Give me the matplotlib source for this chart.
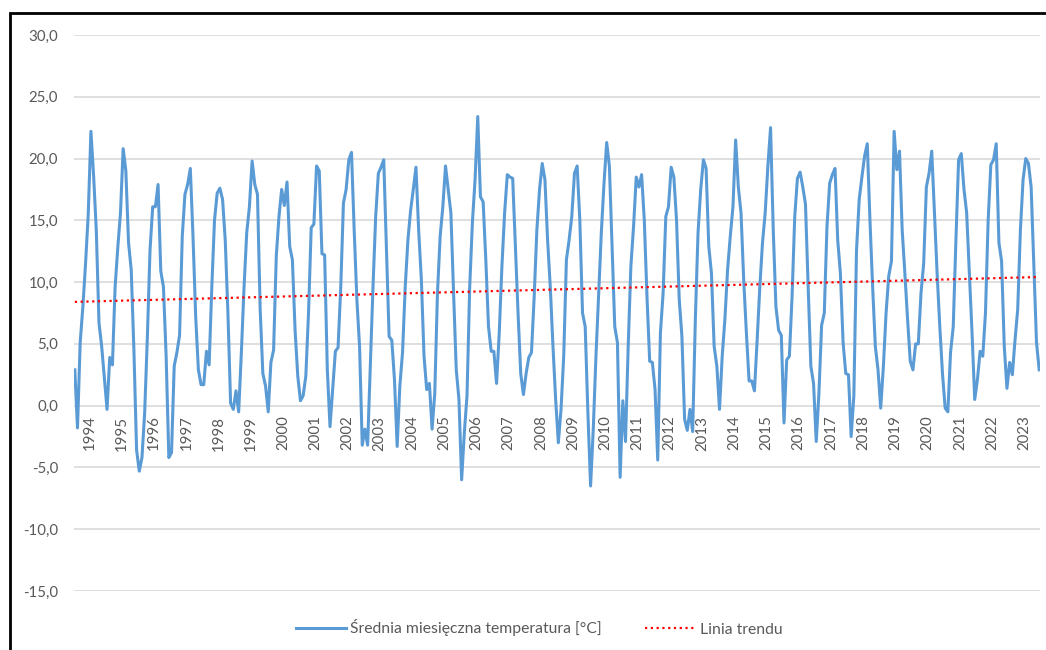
import matplotlib
matplotlib.use("Agg")
import matplotlib.pyplot as plt
import numpy as np
from matplotlib.patches import Rectangle

# monthly mean temperature [°C], Jan..Dec
YEARS = list(range(1994, 2024))
T_1994 = [2.9, -1.8, 5.1, 8.0, 11.5, 15.5, 22.2, 18.6, 14.2, 6.7, 4.8, 2.2]
T_1995 = [-0.3, 3.9, 3.3, 9.6, 12.8, 15.6, 20.8, 19.0, 13.2, 11.0, 4.5, -3.6]
T_1996 = [-5.3, -4.2, -0.6, 5.5, 12.6, 16.1, 16.1, 17.9, 10.9, 9.6, 4.0, -4.2]
T_1997 = [-3.8, 3.2, 4.3, 5.7, 13.7, 17.1, 17.9, 19.2, 13.7, 7.2, 2.9, 1.7]
T_1998 = [1.7, 4.4, 3.3, 9.6, 15.0, 17.2, 17.6, 16.7, 13.4, 7.5, 0.2, -0.3]
T_1999 = [1.2, -0.5, 4.3, 9.6, 14.0, 16.1, 19.8, 17.9, 17.1, 7.8, 2.6, 1.6]
T_2000 = [-0.5, 3.5, 4.5, 12.1, 15.3, 17.5, 16.2, 18.1, 12.9, 11.8, 6.1, 2.4]
T_2001 = [0.4, 0.8, 2.4, 7.5, 14.4, 14.7, 19.4, 19.0, 12.3, 12.2, 2.9, -1.7]
T_2002 = [1.3, 4.4, 4.7, 9.6, 16.4, 17.5, 19.9, 20.5, 14.2, 8.6, 4.8, -3.2]
T_2003 = [-1.9, -3.2, 3.2, 9.6, 15.3, 18.8, 19.3, 19.9, 12.8, 5.6, 5.3, 2.1]
T_2004 = [-3.3, 1.6, 4.3, 9.6, 13.4, 15.8, 17.5, 19.3, 14.2, 10.2, 4.0, 1.3]
T_2005 = [1.8, -1.9, 1.0, 9.1, 13.7, 16.1, 19.4, 17.5, 15.6, 9.1, 2.9, 0.5]
T_2006 = [-6.0, -2.2, 0.8, 9.6, 14.8, 18.3, 23.4, 16.9, 16.5, 11.8, 6.4, 4.4]
T_2007 = [4.4, 1.8, 5.9, 11.3, 15.6, 18.7, 18.5, 18.4, 12.9, 7.5, 2.6, 0.9]
T_2008 = [2.6, 3.9, 4.3, 8.8, 14.2, 17.5, 19.6, 18.3, 13.4, 9.6, 4.8, 0.5]
T_2009 = [-3.0, -0.3, 4.0, 11.8, 13.4, 15.3, 18.8, 19.4, 15.0, 7.5, 6.4, -0.6]
T_2010 = [-6.5, -1.9, 4.0, 9.1, 14.0, 18.0, 21.3, 19.4, 12.9, 6.4, 5.1, -5.8]
T_2011 = [0.4, -2.9, 4.8, 11.3, 14.5, 18.5, 17.7, 18.7, 15.0, 8.8, 3.6, 3.5]
T_2012 = [1.3, -4.4, 5.9, 9.1, 15.3, 16.1, 19.3, 18.5, 15.0, 8.6, 5.6, -1.1]
T_2013 = [-2.0, -0.3, -2.1, 7.0, 14.0, 17.5, 19.9, 19.2, 12.9, 10.7, 4.8, 3.2]
T_2014 = [-0.3, 4.0, 7.0, 11.0, 13.7, 16.1, 21.5, 17.7, 15.6, 10.2, 5.9, 2.0]
T_2015 = [2.0, 1.2, 5.3, 9.6, 13.2, 15.6, 19.4, 22.5, 14.2, 8.0, 6.1, 5.7]
T_2016 = [-1.4, 3.7, 4.0, 8.8, 15.3, 18.4, 18.9, 17.7, 16.3, 9.6, 3.2, 1.8]
T_2017 = [-2.9, 1.0, 6.5, 7.5, 14.5, 18.0, 18.7, 19.2, 13.4, 10.7, 5.1, 2.6]
T_2018 = [2.5, -2.5, 0.8, 12.6, 16.7, 18.5, 20.2, 21.2, 15.0, 9.6, 4.8, 2.9]
T_2019 = [-0.2, 3.2, 7.5, 10.5, 11.7, 22.2, 19.1, 20.6, 14.2, 10.7, 7.0, 3.6]
T_2020 = [2.9, 5.0, 5.0, 9.1, 11.5, 17.7, 18.8, 20.6, 15.6, 10.7, 6.4, 2.6]
T_2021 = [-0.2, -0.5, 4.3, 6.4, 13.4, 19.9, 20.4, 17.5, 15.6, 10.7, 5.9, 0.5]
T_2022 = [2.1, 4.4, 4.0, 7.5, 15.0, 19.5, 19.9, 21.2, 13.2, 11.7, 4.8, 1.4]
T_2023 = [3.5, 2.5, 5.3, 7.8, 14.2, 18.3, 20.0, 19.6, 17.7, 11.3, 5.1, 2.9]

SERIES = [T_1994, T_1995, T_1996, T_1997, T_1998, T_1999, T_2000, T_2001, T_2002, T_2003,
          T_2004, T_2005, T_2006, T_2007, T_2008, T_2009, T_2010, T_2011, T_2012, T_2013,
          T_2014, T_2015, T_2016, T_2017, T_2018, T_2019, T_2020, T_2021, T_2022, T_2023]
Y_TICKS = [-15, -10, -5, 0, 5, 10, 15, 20, 25, 30]

BLUE = "#5b9bd5"
GRID = "#d9d9d9"
TEXT = "#595959"

plt.rcParams["font.family"] = ["Lato", "DejaVu Sans"]

temps = np.concatenate(SERIES)
idx = np.arange(len(temps))
slope, icpt = np.polyfit(idx, temps, 1)
trend = slope * idx + icpt

W, H = 1046, 650
fig = plt.figure(figsize=(W / 100, H / 100), dpi=100)
ax = fig.add_axes([74 / W, 1 - 591 / H, (1040 - 74) / W, (591 - 35) / H])

ax.plot(idx, temps, color=BLUE, lw=2.2, solid_joinstyle="round", zorder=3,
        label="Średnia miesięczna temperatura [°C]")
ax.plot(idx, trend, color="#ff0000", lw=1.6, ls=(0, (1, 1.6)), zorder=4, label="Linia trendu")

ax.set_xlim(-0.3, len(temps) - 0.7)
ax.set_ylim(min(Y_TICKS), max(Y_TICKS))
ax.set_yticks(Y_TICKS)
ax.set_yticklabels([f"{v:.1f}".replace(".", ",") for v in Y_TICKS])
ax.yaxis.grid(True, color=GRID, lw=1.2)
ax.set_axisbelow(True)
ax.set_xticks([])
ax.tick_params(axis="y", length=0, pad=11.5, labelsize=10.8, labelcolor=TEXT)
for s in ax.spines.values():
    s.set_visible(False)

# year labels sit just under the zero line, centred on each year
for k, yr in enumerate(YEARS):
    ax.text(12 * k + 5.5, -0.8, str(yr), rotation=90, ha="center", va="top",
            fontsize=10.8, color=TEXT)

fig.legend(loc="center", bbox_to_anchor=(539 / W, 1 - 628 / H), ncol=2, frameon=False,
           fontsize=11.3, labelcolor=TEXT, handlelength=3.2, columnspacing=2.8, handletextpad=0.25)

fig.patches.append(Rectangle((10 / W, -0.1), 1.2, 1.1 - 13 / H, transform=fig.transFigure,
                             fill=False, edgecolor="black", lw=2))

fig.savefig("out.png", dpi=100)
